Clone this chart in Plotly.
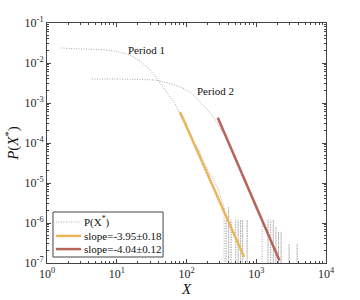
import numpy as np
import plotly.graph_objects as go

# ---------------- data ----------------
# Period 1 distribution (smooth body + noisy tail)
p1_x = [1.59, 2.98, 5.76, 9.45, 15.5, 21.6, 30.0, 39.1, 49.3, 58.2, 68.6, 80.9,
        95.5, 105.5, 116.4, 128.6, 142, 156.7, 173, 191, 211, 233, 257, 284, 303, 324, 346]
p1_y = [0.0237, 0.0224, 0.0218, 0.0200, 0.0158, 0.0112, 0.0067, 0.00376, 0.00211, 0.00141, 9.8e-4, 5.0e-4,
        2.99e-4, 2.0e-4, 1.50e-4, 1.06e-4, 7.9e-5, 5.6e-5, 3.5e-5, 2.7e-5, 1.78e-5, 1.41e-5, 1.0e-5, 7.1e-6, 5.0e-6, 3.5e-6, 2.5e-6]
# isolated events of period 1 (count drops back to zero in between)
p1_spike_x = [370, 402, 436, 506, 550, 597, 638, 741]
p1_spike_y = [1.2e-6, 2.5e-6, 1.2e-6, 1.2e-6, 1.2e-6, 1.2e-6, 1.2e-6, 1.2e-6]

# Period 2 distribution
p2_x = [4.42, 11.2, 21.6, 35.4, 54.5, 80.9, 112.7, 142, 185, 233, 275, 324,
        370, 408, 451, 498, 550, 607, 670, 740, 817, 902, 997, 1101, 1216]
p2_y = [0.00398, 0.00398, 0.00387, 0.00376, 0.00316, 0.00251, 0.00188, 0.00126, 7.9e-4, 5.0e-4, 3.16e-4, 2.0e-4,
        1.41e-4, 1.0e-4, 6.7e-5, 4.7e-5, 3.16e-5, 2.0e-5, 1.33e-5, 8.4e-6, 5.6e-6, 3.5e-6, 2.2e-6, 1.68e-6, 1.26e-6]
p2_spike_x = [1475, 1608, 1753, 1913, 2085, 2273, 2960, 3860]
p2_spike_y = [1.2e-6, 1.2e-6, 1.2e-6, 8e-7, 6e-7, 6e-7, 3e-7, 3e-7]
zero_level = 5e-8  # empty bins (drawn just below the axis floor)

# power-law fits
fit1_x = [80.9, 670]
fit1_y = [5.96e-4, 1.41e-7]
fit2_x = [281, 2153]
fit2_y = [4.29e-4, 1.15e-7]

legend_names = ["P(X<sup>*</sup>)", "slope=-3.95±0.18", "slope=-4.04±0.12"]
x_ticks = [1, 10, 100, 1000, 10000]
y_ticks = [1e-7, 1e-6, 1e-5, 1e-4, 1e-3, 1e-2, 1e-1]


def with_spikes(xs, ys, sx, sy):
    X = list(xs) + [xs[-1]]
    Y = list(ys) + [zero_level]
    for a, b in zip(sx, sy):
        X += [a, a, a]
        Y += [zero_level, b, zero_level]
    return X, Y


def minor_vals(decades):
    return [m * d for d in decades[:-1] for m in range(2, 10)]


font_serif = "Liberation Serif, Times New Roman, serif"
gray = "#a8a8a8"
dots = "1px,1.5px"
c_fit1 = "#EBB55B"
c_fit2 = "#B5645A"

fig = go.Figure()
x1, y1 = with_spikes(p1_x, p1_y, p1_spike_x, p1_spike_y)
x2, y2 = with_spikes(p2_x, p2_y, p2_spike_x, p2_spike_y)
fig.add_trace(go.Scatter(x=x1, y=y1, mode="lines", name=legend_names[0],
                         line=dict(color=gray, width=1, dash=dots, simplify=False)))
fig.add_trace(go.Scatter(x=x2, y=y2, mode="lines", name=legend_names[0],
                         line=dict(color=gray, width=1, dash=dots, simplify=False)))
fig.add_trace(go.Scatter(x=fit1_x, y=fit1_y, mode="lines", name=legend_names[1],
                         line=dict(color=c_fit1, width=2.5)))
fig.add_trace(go.Scatter(x=fit2_x, y=fit2_y, mode="lines", name=legend_names[2],
                         line=dict(color=c_fit2, width=2.5)))

fig.add_annotation(x=np.log10(26.3), y=np.log10(0.0211), text="Period 1", showarrow=False,
                   font=dict(family=font_serif, size=11, color="#111"))
fig.add_annotation(x=np.log10(257), y=np.log10(0.0020), text="Period 2", showarrow=False,
                   font=dict(family=font_serif, size=11, color="#111"))

# ---- legend box (drawn by hand to get the compact MATLAB look) ----
fig.add_shape(type="rect", xref="paper", yref="paper", x0=0.0215, x1=0.416, y0=0.025, y1=0.2125,
              line=dict(color="#444", width=1), fillcolor="white", layer="above")
leg_rows = [0.171, 0.113, 0.058]
leg_styles = [dict(color=gray, width=1, dash=dots), dict(color=c_fit1, width=2.5), dict(color=c_fit2, width=2.5)]
for yy, name, st in zip(leg_rows, legend_names, leg_styles):
    fig.add_shape(type="line", xref="paper", yref="paper", x0=0.032, x1=0.122, y0=yy, y1=yy,
                  line=st, layer="above")
    fig.add_annotation(xref="paper", yref="paper", x=0.127, y=yy, text=name, showarrow=False,
                       xanchor="left", yanchor="middle",
                       font=dict(family=font_serif, size=11, color="#111"))

axcol = "#444444"
common = dict(showline=True, linecolor=axcol, linewidth=1, mirror="ticks", ticks="inside",
              ticklen=4, tickcolor=axcol, showgrid=False, zeroline=False, automargin=False,
              tickfont=dict(family=font_serif, size=12, color="#262626"))

fig.update_xaxes(type="log", range=[0, 4], tickvals=x_ticks,
                 ticktext=["10<sup>%d</sup>" % round(np.log10(v)) for v in x_ticks],
                 minor=dict(ticks="inside", ticklen=2, tickcolor=axcol, showgrid=False,
                            tickmode="array", tickvals=minor_vals(x_ticks)),
                 title=dict(text="<i>X</i>", font=dict(family=font_serif, size=15, color="#111"), standoff=2),
                 **common)
fig.update_yaxes(type="log", range=[-7, -1], tickvals=y_ticks,
                 ticktext=["10<sup>%d</sup>" % round(np.log10(v)) for v in y_ticks],
                 minor=dict(ticks="inside", ticklen=2, tickcolor=axcol, showgrid=False,
                            tickmode="array", tickvals=minor_vals(y_ticks)),
                 title=dict(text="<i>P</i>(<i>X</i><sup>*</sup>)", font=dict(family=font_serif, size=15, color="#111"), standoff=2),
                 **common)

fig.update_layout(width=360, height=300, autosize=False,
                  margin=dict(l=47, r=34, t=23, b=37),
                  paper_bgcolor="white", plot_bgcolor="white",
                  showlegend=False)

fig.write_html("out.html", config={"displayModeBar": False, "staticPlot": True},
               post_script="document.body.style.margin='0';document.body.style.overflow='hidden';")
